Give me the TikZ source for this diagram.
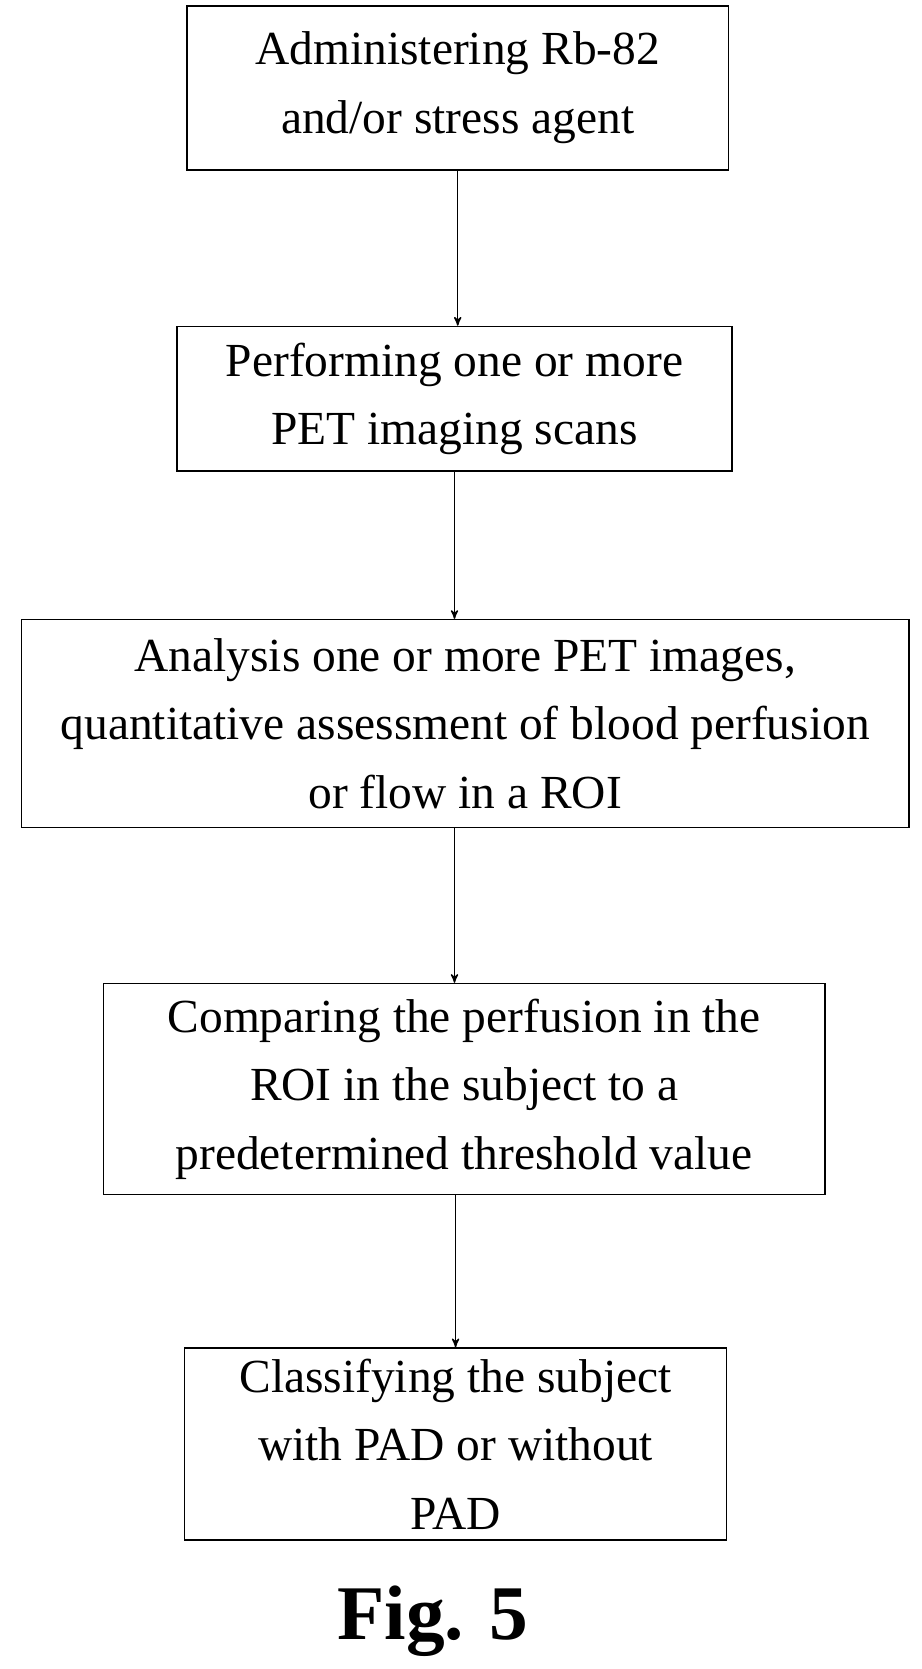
\documentclass[tikz,border=0pt]{standalone}
\usepackage{fontspec}
\setmainfont{Liberation Serif}
\usetikzlibrary{arrows}
\begin{document}
\begin{tikzpicture}[x=0.02144cm,y=-0.02144cm,->,>=stealth',thick]
  \tikzstyle{stage}=[draw,thick,align=center,font=\fontsize{27}{39}\selectfont,inner sep=0pt]
  \useasboundingbox (0,0) rectangle (860,1557);

  \node[stage,minimum width=505*0.02144cm,minimum height=153*0.02144cm] (admin) at (427,82) {Administering Rb-82\\and/or stress agent};
  \node[stage,minimum width=518*0.02144cm,minimum height=135*0.02144cm] (scan) at (424,372) {Performing one or more\\PET imaging scans};
  \node[stage,minimum width=828*0.02144cm,minimum height=194*0.02144cm] (analysis) at (434,675) {Analysis one or more PET images,\\quantitative assessment of blood perfusion\\or flow in a ROI};
  \node[stage,minimum width=673*0.02144cm,minimum height=197*0.02144cm] (compare) at (433,1016) {Comparing the perfusion in the\\ROI in the subject to a\\predetermined threshold value};
  \node[stage,minimum width=506*0.02144cm,minimum height=179*0.02144cm] (classify) at (425,1347) {Classifying the subject\\with PAD or without\\PAD};
  \node[font=\bfseries\fontsize{44}{50}\selectfont] (fig) at (404,1512) {Fig. 5};

  \draw[-{stealth'[scale=1.5]}] (admin.south) -- (admin.south |- scan.north);
  \draw[-{stealth'[scale=1.5]}] (scan.south) -- (scan.south |- analysis.north);
  \draw[-{stealth'[scale=1.5]}] (compare.north -| scan.south) ++(0,-145) -- (compare.north -| scan.south);
  \draw[-{stealth'[scale=1.5]}] (compare.south -| classify.north) -- (classify.north);
\end{tikzpicture}
\end{document}
